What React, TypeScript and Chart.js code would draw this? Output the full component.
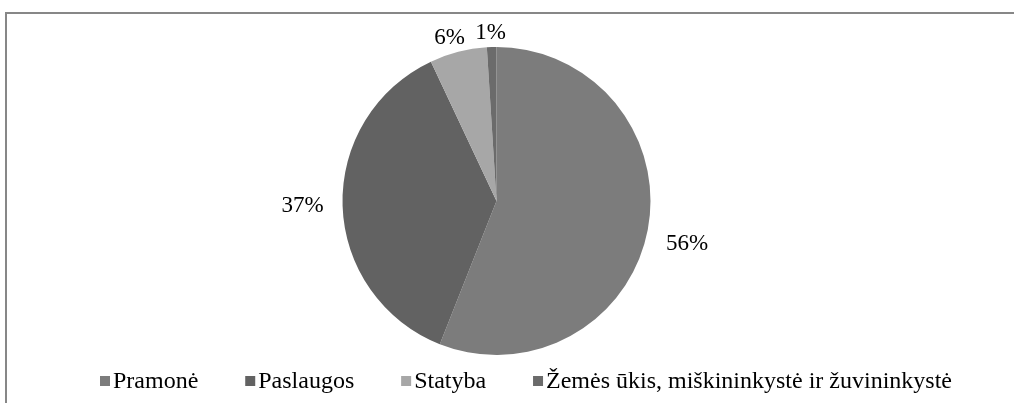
import React, { useEffect, useRef } from "react";
import { Chart, registerables } from "chart.js";

Chart.register(...registerables);

const categories = ["Pramonė", "Paslaugos", "Statyba", "Žemės ūkis, miškininkystė ir žuvininkystė"];
const shares = [56, 37, 6, 1];
const sliceColors = ["#7c7c7c", "#626262", "#a7a7a7", "#6b6b6b"];
const percentLabels = ["56%", "37%", "6%", "1%"];

const W = 1014;
const H = 403;
const SERIF = "\"Liberation Serif\", \"Times New Roman\", serif";

const framePlugin = {
  id: "frame",
  beforeDraw(chart: any) {
    const ctx = chart.ctx;
    ctx.save();
    ctx.fillStyle = "#ffffff";
    ctx.fillRect(0, 0, chart.width, chart.height);
    ctx.strokeStyle = "#878787";
    ctx.lineWidth = 2;
    ctx.beginPath();
    ctx.moveTo(6, chart.height);
    ctx.lineTo(6, 13);
    ctx.lineTo(chart.width, 13);
    ctx.stroke();
    ctx.restore();
  },
};

const labelPlugin = {
  id: "pctLabels",
  afterDatasetsDraw(chart: any) {
    const ctx = chart.ctx;
    const meta = chart.getDatasetMeta(0);
    ctx.save();
    ctx.font = "23px " + SERIF;
    ctx.fillStyle = "#000000";
    ctx.textAlign = "center";
    ctx.textBaseline = "middle";
    meta.data.forEach((arc: any, i: number) => {
      const { x, y, startAngle, endAngle, outerRadius } = arc.getProps(
        ["x", "y", "startAngle", "endAngle", "outerRadius"],
        true
      );
      const mid = (startAngle + endAngle) / 2;
      const dx = Math.cos(mid);
      const dy = Math.sin(mid);
      const text = percentLabels[i];
      const tw = ctx.measureText(text).width;
      const halfW = tw / 2 + 16;
      const halfH = 11;
      const d = outerRadius + 3;
      const cx = x + dx * d + dx * halfW;
      const cy = y + dy * d + dy * halfH + (dy > 0.1 ? 11 : 0);
      ctx.fillText(text, cx, cy);
    });
    ctx.restore();
  },
};

const legendPlugin = {
  id: "customLegend",
  afterDraw(chart: any) {
    const ctx = chart.ctx;
    ctx.save();
    ctx.font = "24px " + SERIF;
    ctx.textBaseline = "middle";
    ctx.textAlign = "left";
    const box = 10;
    const boxGap = 3;
    const left = 100;
    const right = 952;
    const widths = categories.map((c) => box + boxGap + ctx.measureText(c).width);
    const sum = widths.reduce((a, b) => a + b, 0);
    const itemGap = (right - left - sum) / (categories.length - 1);
    let x = left;
    const yMid = 381;
    categories.forEach((c, i) => {
      ctx.fillStyle = sliceColors[i];
      ctx.fillRect(x, yMid - box / 2, box, box);
      ctx.fillStyle = "#000000";
      ctx.fillText(c, x + box + boxGap, yMid + 1);
      x += widths[i] + itemGap;
    });
    ctx.restore();
  },
};

export default function App() {
  const ref = useRef<HTMLCanvasElement | null>(null);
  useEffect(() => {
    if (!ref.current) return;
    const chart = new Chart(ref.current, {
      type: "pie",
      data: {
        labels: categories,
        datasets: [
          {
            data: shares,
            backgroundColor: sliceColors,
            borderWidth: 0,
          },
        ],
      },
      options: {
        animation: false,
        responsive: false,
        maintainAspectRatio: false,
        layout: { padding: { top: 47, bottom: 48, left: 0, right: 21 } },
        plugins: {
          legend: { display: false },
          tooltip: { enabled: false },
        },
      },
      plugins: [framePlugin, labelPlugin, legendPlugin],
    });
    return () => chart.destroy();
  }, []);
  return (
    <div style={{ position: "fixed", left: 0, top: 0, width: W, height: H }}>
      <canvas ref={ref} width={W} height={H} style={{ width: W, height: H }} />
    </div>
  );
}
